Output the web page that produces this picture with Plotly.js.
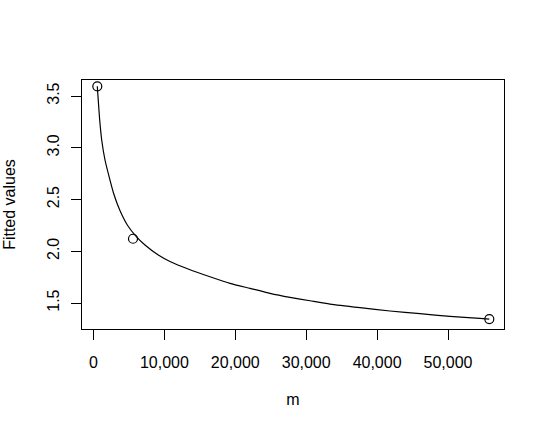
<!DOCTYPE html>
<html>
<head>
<meta charset="utf-8">
<script src="https://cdn.plot.ly/plotly-3.0.1.min.js"></script>
<style>html,body{margin:0;padding:0;background:#fff;}#plot{width:546px;height:432px;}</style>
</head>
<body>
<div id="plot"></div>
<script>
// Observed points
const pointM = [536, 5571, 55825];
const pointFit = [3.594, 2.121, 1.345];

// Fitted curve
const curveM = [536, 874, 1157, 1622, 2327, 2821, 3357, 4020, 4767, 5853, 7264, 9139, 10790, 13610, 16431, 19252, 22073, 24894, 27715, 30536, 33357, 37588, 41820, 46051, 50282, 54513, 55825];
const curveFit = [3.594, 3.268, 3.075, 2.882, 2.688, 2.563, 2.457, 2.350, 2.254, 2.157, 2.060, 1.964, 1.901, 1.822, 1.754, 1.690, 1.642, 1.594, 1.555, 1.522, 1.490, 1.455, 1.423, 1.397, 1.371, 1.352, 1.345];

const xTicks = [0, 10000, 20000, 30000, 40000, 50000];
const xTickText = ["0", "10,000", "20,000", "30,000", "40,000", "50,000"];
const yTicks = [1.5, 2.0, 2.5, 3.0, 3.5];
const yTickText = ["1.5", "2.0", "2.5", "3.0", "3.5"];

const font = {family: "Liberation Sans, Arial, Helvetica, sans-serif", size: 16, color: "#000"};

const traces = [
  {x: curveM, y: curveFit, type: "scatter", mode: "lines",
   line: {color: "#000", width: 1.2, shape: "spline", smoothing: 0.6}, hoverinfo: "skip", showlegend: false},
  {x: pointM, y: pointFit, type: "scatter", mode: "markers",
   marker: {symbol: "circle-open", size: 9, color: "#000", line: {color: "#000", width: 1.2}},
   showlegend: false}
];

const layout = {
  width: 546, height: 432,
  paper_bgcolor: "#fff", plot_bgcolor: "#fff",
  margin: {l: 82, r: 42, t: 80, b: 103},
  font: font,
  showlegend: false,
  xaxis: {
    range: [-1622, 57898], autorange: false,
    tickvals: xTicks, ticktext: xTickText,
    ticks: "outside", ticklen: 10, tickwidth: 1, tickcolor: "#000",
    showline: true, mirror: true, linecolor: "#000", linewidth: 1,
    showgrid: false, zeroline: false,
    ticklabelstandoff: 9,
    tickfont: font,
    title: {text: "m", font: font, standoff: 23}
  },
  yaxis: {
    range: [1.249, 3.655], autorange: false,
    tickvals: yTicks, ticktext: yTickText, tickangle: -90,
    ticks: "outside", ticklen: 10, tickwidth: 1, tickcolor: "#000",
    showline: true, mirror: true, linecolor: "#000", linewidth: 1,
    showgrid: false, zeroline: false,
    ticklabelstandoff: 6,
    tickfont: font,
    title: {text: "Fitted values", font: font, standoff: 24}
  }
};

Plotly.newPlot("plot", traces, layout, {displayModeBar: false, staticPlot: true});
</script>
</body>
</html>
